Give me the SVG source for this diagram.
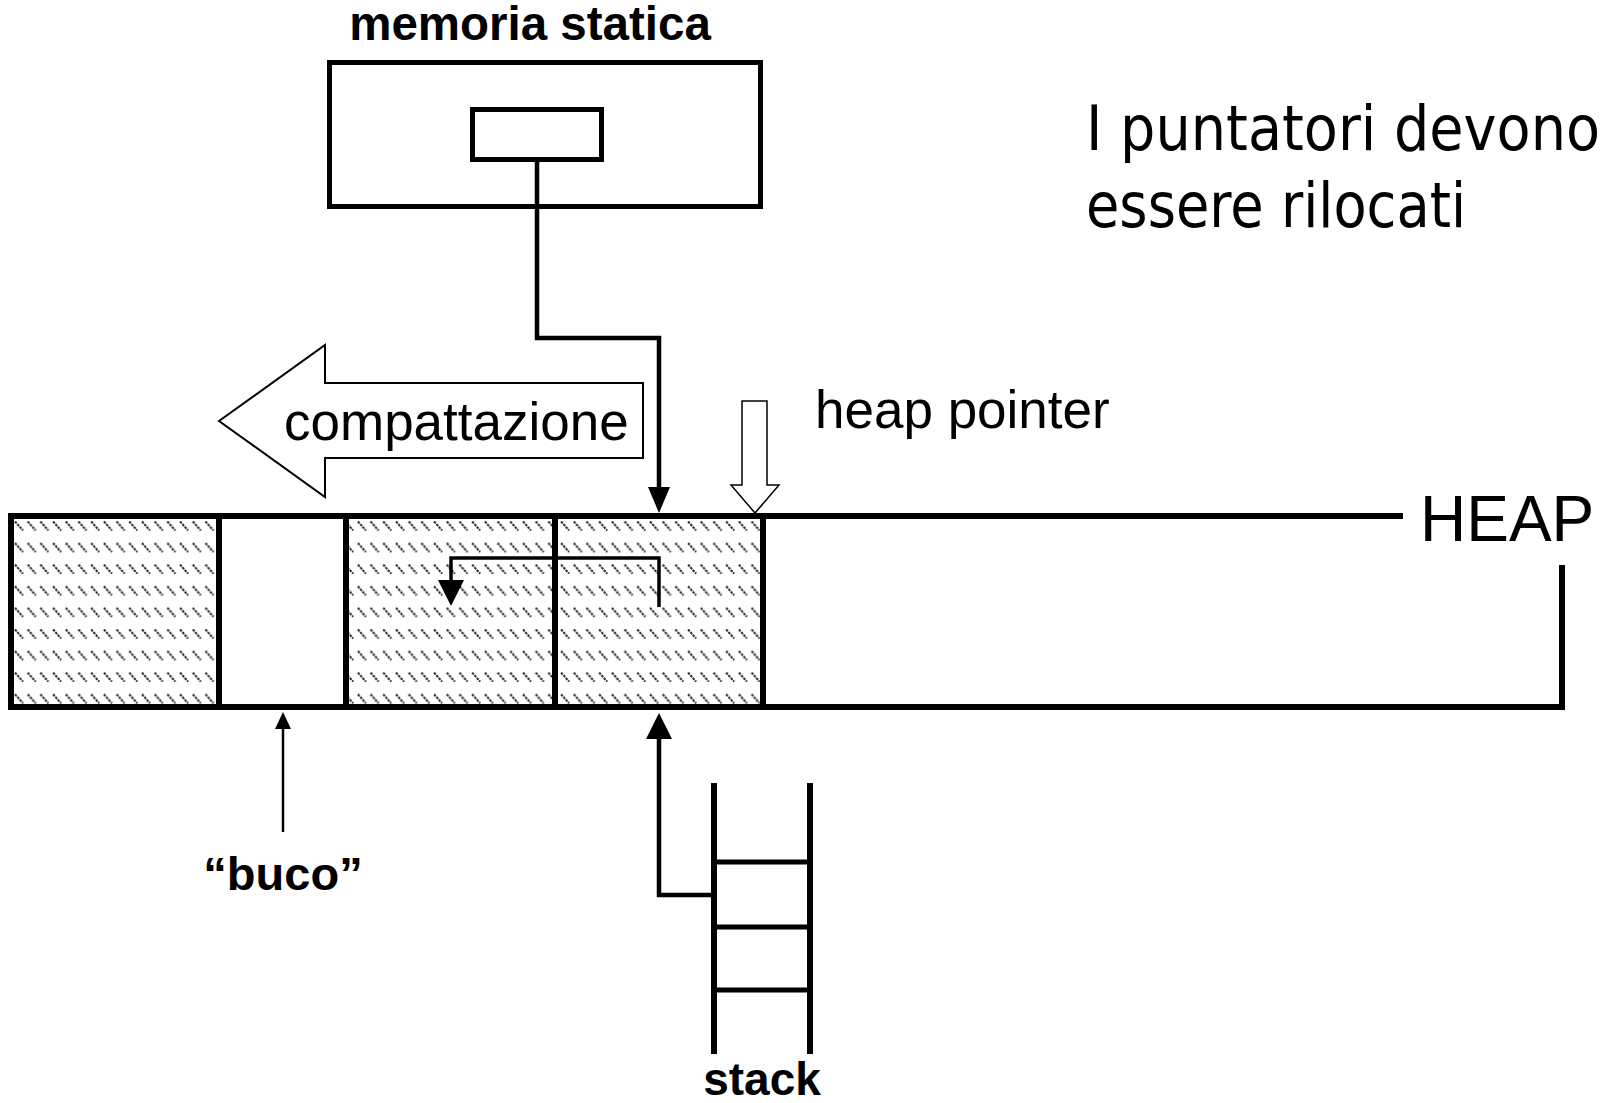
<svg xmlns="http://www.w3.org/2000/svg" width="1614" height="1103" viewBox="0 0 1614 1103">
<style>
.ln{stroke:#000;fill:none;stroke-linecap:butt;stroke-linejoin:miter}
.ar{fill:#000;stroke:none}
.hol{fill:#fff;stroke:#000;stroke-linejoin:miter}
.sans{font-family:"Liberation Sans",Arial,sans-serif;fill:#000}
.bold{font-weight:bold}
.tah{font-family:"DejaVu Sans",Verdana,sans-serif;fill:#000}
</style>
<defs>
<pattern id="hatch" patternUnits="userSpaceOnUse" x="14" y="520" width="12.7" height="21.6">
<line x1="1" y1="1.5" x2="9" y2="10.5" stroke="#222" stroke-width="2" stroke-dasharray="2.5 1"/>
</pattern>
</defs>
<rect width="1614" height="1103" fill="#fff"/>

<g id="memoria-statica">
<text class="sans bold" x="530" y="40" font-size="47.5" text-anchor="middle">memoria statica</text>
<rect class="ln" x="329.5" y="62.5" width="431" height="144" stroke-width="5"/>
<rect id="static-cell" class="ln" x="472.5" y="109.5" width="129" height="50" stroke-width="5"/>
</g>

<g id="note">
<text class="tah" transform="translate(1086,150) scale(1,1.1)" x="0" y="0" font-size="56" textLength="514" lengthAdjust="spacingAndGlyphs">I puntatori devono</text>
<text class="tah" transform="translate(1086,227) scale(1,1.1)" x="0" y="0" font-size="56" textLength="380" lengthAdjust="spacingAndGlyphs">essere rilocati</text>
</g>

<g id="compattazione">
<polygon class="hol" stroke-width="2" points="219,421 325,345 325,383 643,383 643,458 325,458 325,497"/>
<text class="sans" x="284" y="440" font-size="53">compattazione</text>
</g>

<g id="heap-pointer">
<polygon class="hol" stroke-width="1.5" points="742,401 767,401 767,485 779,485 755,513 731,485 742,485"/>
<text class="sans" x="815" y="428" font-size="53">heap pointer</text>
</g>

<g id="heap">
<rect x="14" y="519" width="202" height="185" fill="url(#hatch)"/>
<rect x="349" y="519" width="411" height="185" fill="url(#hatch)"/>
<path class="ln" stroke-width="6" d="M8,516 H1403 M8,707 H1565 M11,513 V710 M1562,565 V710 M219,516 V707 M346,516 V707 M555,516 V707 M763,516 V707"/>
<text class="sans" x="1420" y="541" font-size="64">HEAP</text>
</g>

<g id="buco">
<text class="sans bold" x="283" y="890" font-size="47" text-anchor="middle">“buco”</text>
</g>

<g id="stack">
<path class="ln" stroke-width="6" d="M714,783 V1054 M810,783 V1054"/>
<path class="ln" stroke-width="5" d="M714,862 H810 M714,927 H810 M714,990 H810"/>
<text class="sans bold" x="762" y="1095" font-size="46" text-anchor="middle">stack</text>
</g>

<g id="connectors">
<path class="ln" stroke-width="4.5" d="M537,162 V338 H659 V490"/>
<polygon class="ar" points="648,487 670,487 659,513"/>
<path class="ln" stroke-width="3.5" d="M659,607 V558 H451 V582"/>
<polygon class="ar" points="438,580 464,580 451,606"/>
<path class="ln" stroke-width="4.5" d="M712,895 H659 V736"/>
<polygon class="ar" points="646,739 672,739 659,713"/>
<path class="ln" stroke-width="2.5" d="M283,832 V726"/>
<polygon class="ar" points="275,729 291,729 283,712"/>
</g>
</svg>
